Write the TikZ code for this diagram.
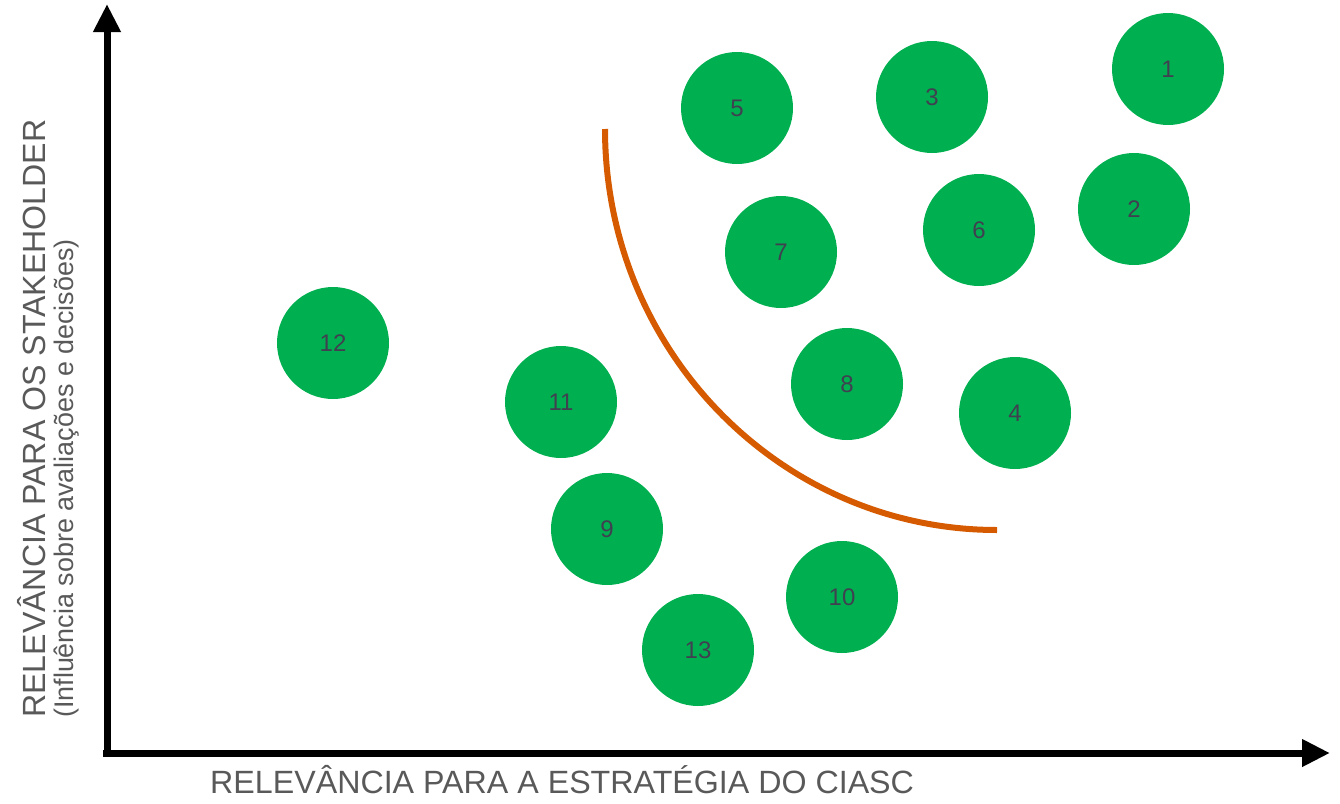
\documentclass[tikz,border=0pt]{standalone}
\usepackage{fontspec}
\setmainfont{Liberation Sans}
\usetikzlibrary{arrows.meta}
\definecolor{dotgreen}{HTML}{00B050}
\definecolor{numgray}{HTML}{404050}
\definecolor{labgray}{HTML}{595959}
\definecolor{arcorange}{HTML}{D55A00}
\begin{document}
\begin{tikzpicture}[x=1pt,y=-1pt,
  dot/.style={circle,fill=dotgreen,minimum size=112pt,inner sep=0pt,text=numgray,font=\fontsize{24}{24}\selectfont},
  axis/.style={line width=7pt,-{Triangle[length=28pt,width=26pt]}},
  lab/.style={text=labgray,inner sep=0pt}]
\useasboundingbox (0,0) rectangle (1340,803);
\coordinate (o1) at (107,757);
\coordinate (ytip) at (107,4);
\coordinate (o2) at (103,753);
\coordinate (xtip) at (1330,753);
\draw[axis] (o1) -- (ytip);
\draw[axis] (o2) -- (xtip);
\node[lab,anchor=west,font=\fontsize{32.2}{32}\selectfont] (xl) at (210,780) {RELEVÂNCIA PARA A ESTRATÉGIA DO CIASC};
\node[lab,anchor=west,rotate=90,font=\fontsize{32.1}{32}\selectfont] (yl) at (32,718) {RELEVÂNCIA PARA OS STAKEHOLDER};
\node[lab,anchor=west,rotate=90,font=\fontsize{26.9}{27}\selectfont] (ys) at (67,718) {(Influência sobre avaliações e decisões)};
\coordinate (as) at (605,129);
\draw[arcorange,line width=6pt] (as) arc[start angle=180,end angle=270,x radius=392pt,y radius=401pt];
\node[dot] (n1) at (1168,69) {1};
\node[dot] (n2) at (1134,209) {2};
\node[dot] (n3) at (932,97) {3};
\node[dot] (n4) at (1015,413) {4};
\node[dot] (n5) at (737,108) {5};
\node[dot] (n6) at (979,230) {6};
\node[dot] (n7) at (781,252) {7};
\node[dot] (n8) at (847,384) {8};
\node[dot] (n9) at (607,529) {9};
\node[dot] (n10) at (842,597) {10};
\node[dot] (n11) at (561,402) {11};
\node[dot] (n12) at (333,343) {12};
\node[dot] (n13) at (698,650) {13};
\end{tikzpicture}
\end{document}
